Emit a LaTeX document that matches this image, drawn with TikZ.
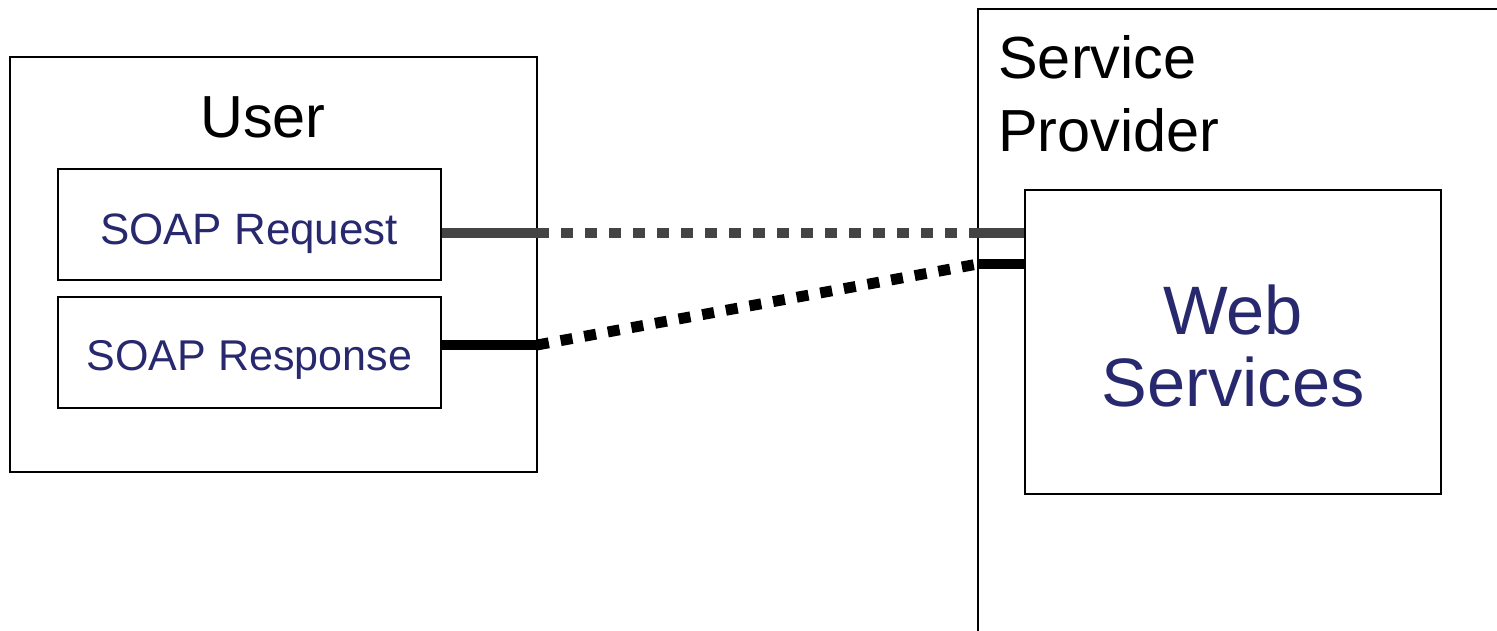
\documentclass[tikz,border=0pt]{standalone}
\usepackage{fontspec}
\setmainfont{Liberation Sans}
\usepackage{tikz}
\definecolor{soapblue}{RGB}{40,40,110}
\definecolor{reqgray}{RGB}{68,68,68}
\tikzset{
	box/.style={draw, line width=1.1pt, inner sep=0pt},
	wire/.style={line width=6.2pt},
	dotted wire/.style={line width=6.2pt, dash pattern=on 0.24cm off 0.24cm}
}

\begin{document}
\begin{tikzpicture}

	\useasboundingbox (0,0) rectangle (29.94,12.62);
	\clip (0,0) rectangle (29.94,12.62);

	\node[box, minimum width=10.54cm, minimum height=8.3cm] (user) at (5.47,7.33) {};
	\node[box, minimum width=7.66cm, minimum height=2.22cm] (request) at (4.99,8.13) {};
	\node[box, minimum width=7.66cm, minimum height=2.22cm] (response) at (4.99,5.57) {};
	\draw[line width=1.1pt] (30.5,12.44) -- (19.56,12.44) -- (19.56,-0.5);
	\node[box, minimum width=8.32cm, minimum height=6.08cm] (web) at (24.66,5.78) {};

	\node[font=\fontsize{33.8}{41}\selectfont] (usertitle) at (5.26,10.28) {User};
	\node[text=soapblue, font=\fontsize{25}{30}\selectfont] (reqtext) at (4.98,7.94) {SOAP Request};
	\node[text=soapblue, font=\fontsize{24.5}{30}\selectfont] (restext) at (4.99,5.42) {SOAP Response};
	\node[anchor=north west, inner sep=0pt, align=left, font=\fontsize{33.8}{41.4}\selectfont] (provider) at (19.96,11.92) {Service\\Provider};
	\node[text=soapblue, align=center, font=\fontsize{39}{41.4}\selectfont] (webtext) at (24.66,5.7) {Web\\Services};

	\coordinate (reqa) at (10.74,7.96);
	\coordinate (reqb) at (19.56,7.96);
	\coordinate (reqc) at (web.west |- reqb);
	\coordinate (resa) at (10.74,5.72);
	\coordinate (resb) at (19.56,7.34);
	\coordinate (resc) at (web.west |- resb);

	\draw[wire, reqgray] (request.east |- reqa) -- (reqa);
	\draw[dotted wire, reqgray] (reqa) -- (reqb);
	\draw[wire, reqgray] (reqb) -- (reqc);
	\draw[wire] (response.east |- resa) -- (resa);
	\draw[dotted wire] (resa) -- (resb);
	\draw[wire] (resb) -- (resc);

\end{tikzpicture}
\end{document}
